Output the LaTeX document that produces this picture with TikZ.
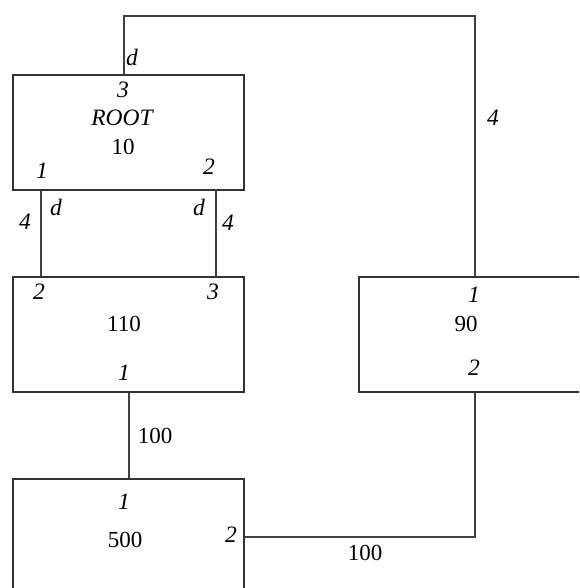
\documentclass[tikz,border=0pt]{standalone}
\usepackage{fontspec}
\setmainfont{Liberation Serif}
\begin{document}
\begin{tikzpicture}[x=1pt,y=-1pt,
  box/.style={draw=black!80, line width=2.2pt, rectangle, minimum width=231pt, minimum height=115pt, inner sep=0pt, anchor=north west},
  wire/.style={draw=black!75, line width=2.2pt},
  lbl/.style={font=\fontsize{23.5}{27}\selectfont\itshape, inner sep=0pt},
  num/.style={font=\fontsize{23}{27}\selectfont, inner sep=0pt}]
\useasboundingbox (0,0) rectangle (579,588);
\clip (0,0) rectangle (579,588);
% boxes
\node[box] (root) at (12,74) {};
\node[box] (n110) at (12,276) {};
\node[box] (n90) at (358,276) {};
\node[box] (n500) at (12,478) {};
% wires
\coordinate (bend) at (124,16);
\draw[wire] (root.north -| bend) -- (bend) -| (n90.north);
\draw[wire] ([xshift=29pt]root.south west) -- ([xshift=29pt]n110.north west);
\draw[wire] ([xshift=-29pt]root.south east) -- ([xshift=-29pt]n110.north east);
\draw[wire] (n110.south) -- (n500.north);
\draw[wire] (n500.east) -| (n90.south);
% labels root
\node[lbl] (dtop) at (132,57) {d};
\node[lbl] (r3) at (123,90) {3};
\node[lbl] (rname) at (122,118) {ROOT};
\node[num] (rval) at (123,147) {10};
\node[lbl] (r1) at (42,171) {1};
\node[lbl] (r2) at (209,167) {2};
% links root-110
\node[lbl] (w4l) at (25,222) {4};
\node[lbl] (dl) at (56,207) {d};
\node[lbl] (dr) at (199,207) {d};
\node[lbl] (w4r) at (228,223) {4};
% 110
\node[lbl] (a2) at (39,292) {2};
\node[lbl] (a3) at (213,292) {3};
\node[num] (aval) at (124,324) {110};
\node[lbl] (a1) at (124,373) {1};
% 90
\node[lbl] (w4t) at (493,118) {4};
\node[lbl] (b1) at (474,295) {1};
\node[num] (bval) at (466,324) {90};
\node[lbl] (b2) at (474,368) {2};
% 500
\node[num] (w100a) at (155,436) {100};
\node[lbl] (c1) at (124,502) {1};
\node[num] (cval) at (125,540) {500};
\node[lbl] (c2) at (231,535) {2};
\node[num] (w100b) at (365,553) {100};
\end{tikzpicture}
\end{document}
